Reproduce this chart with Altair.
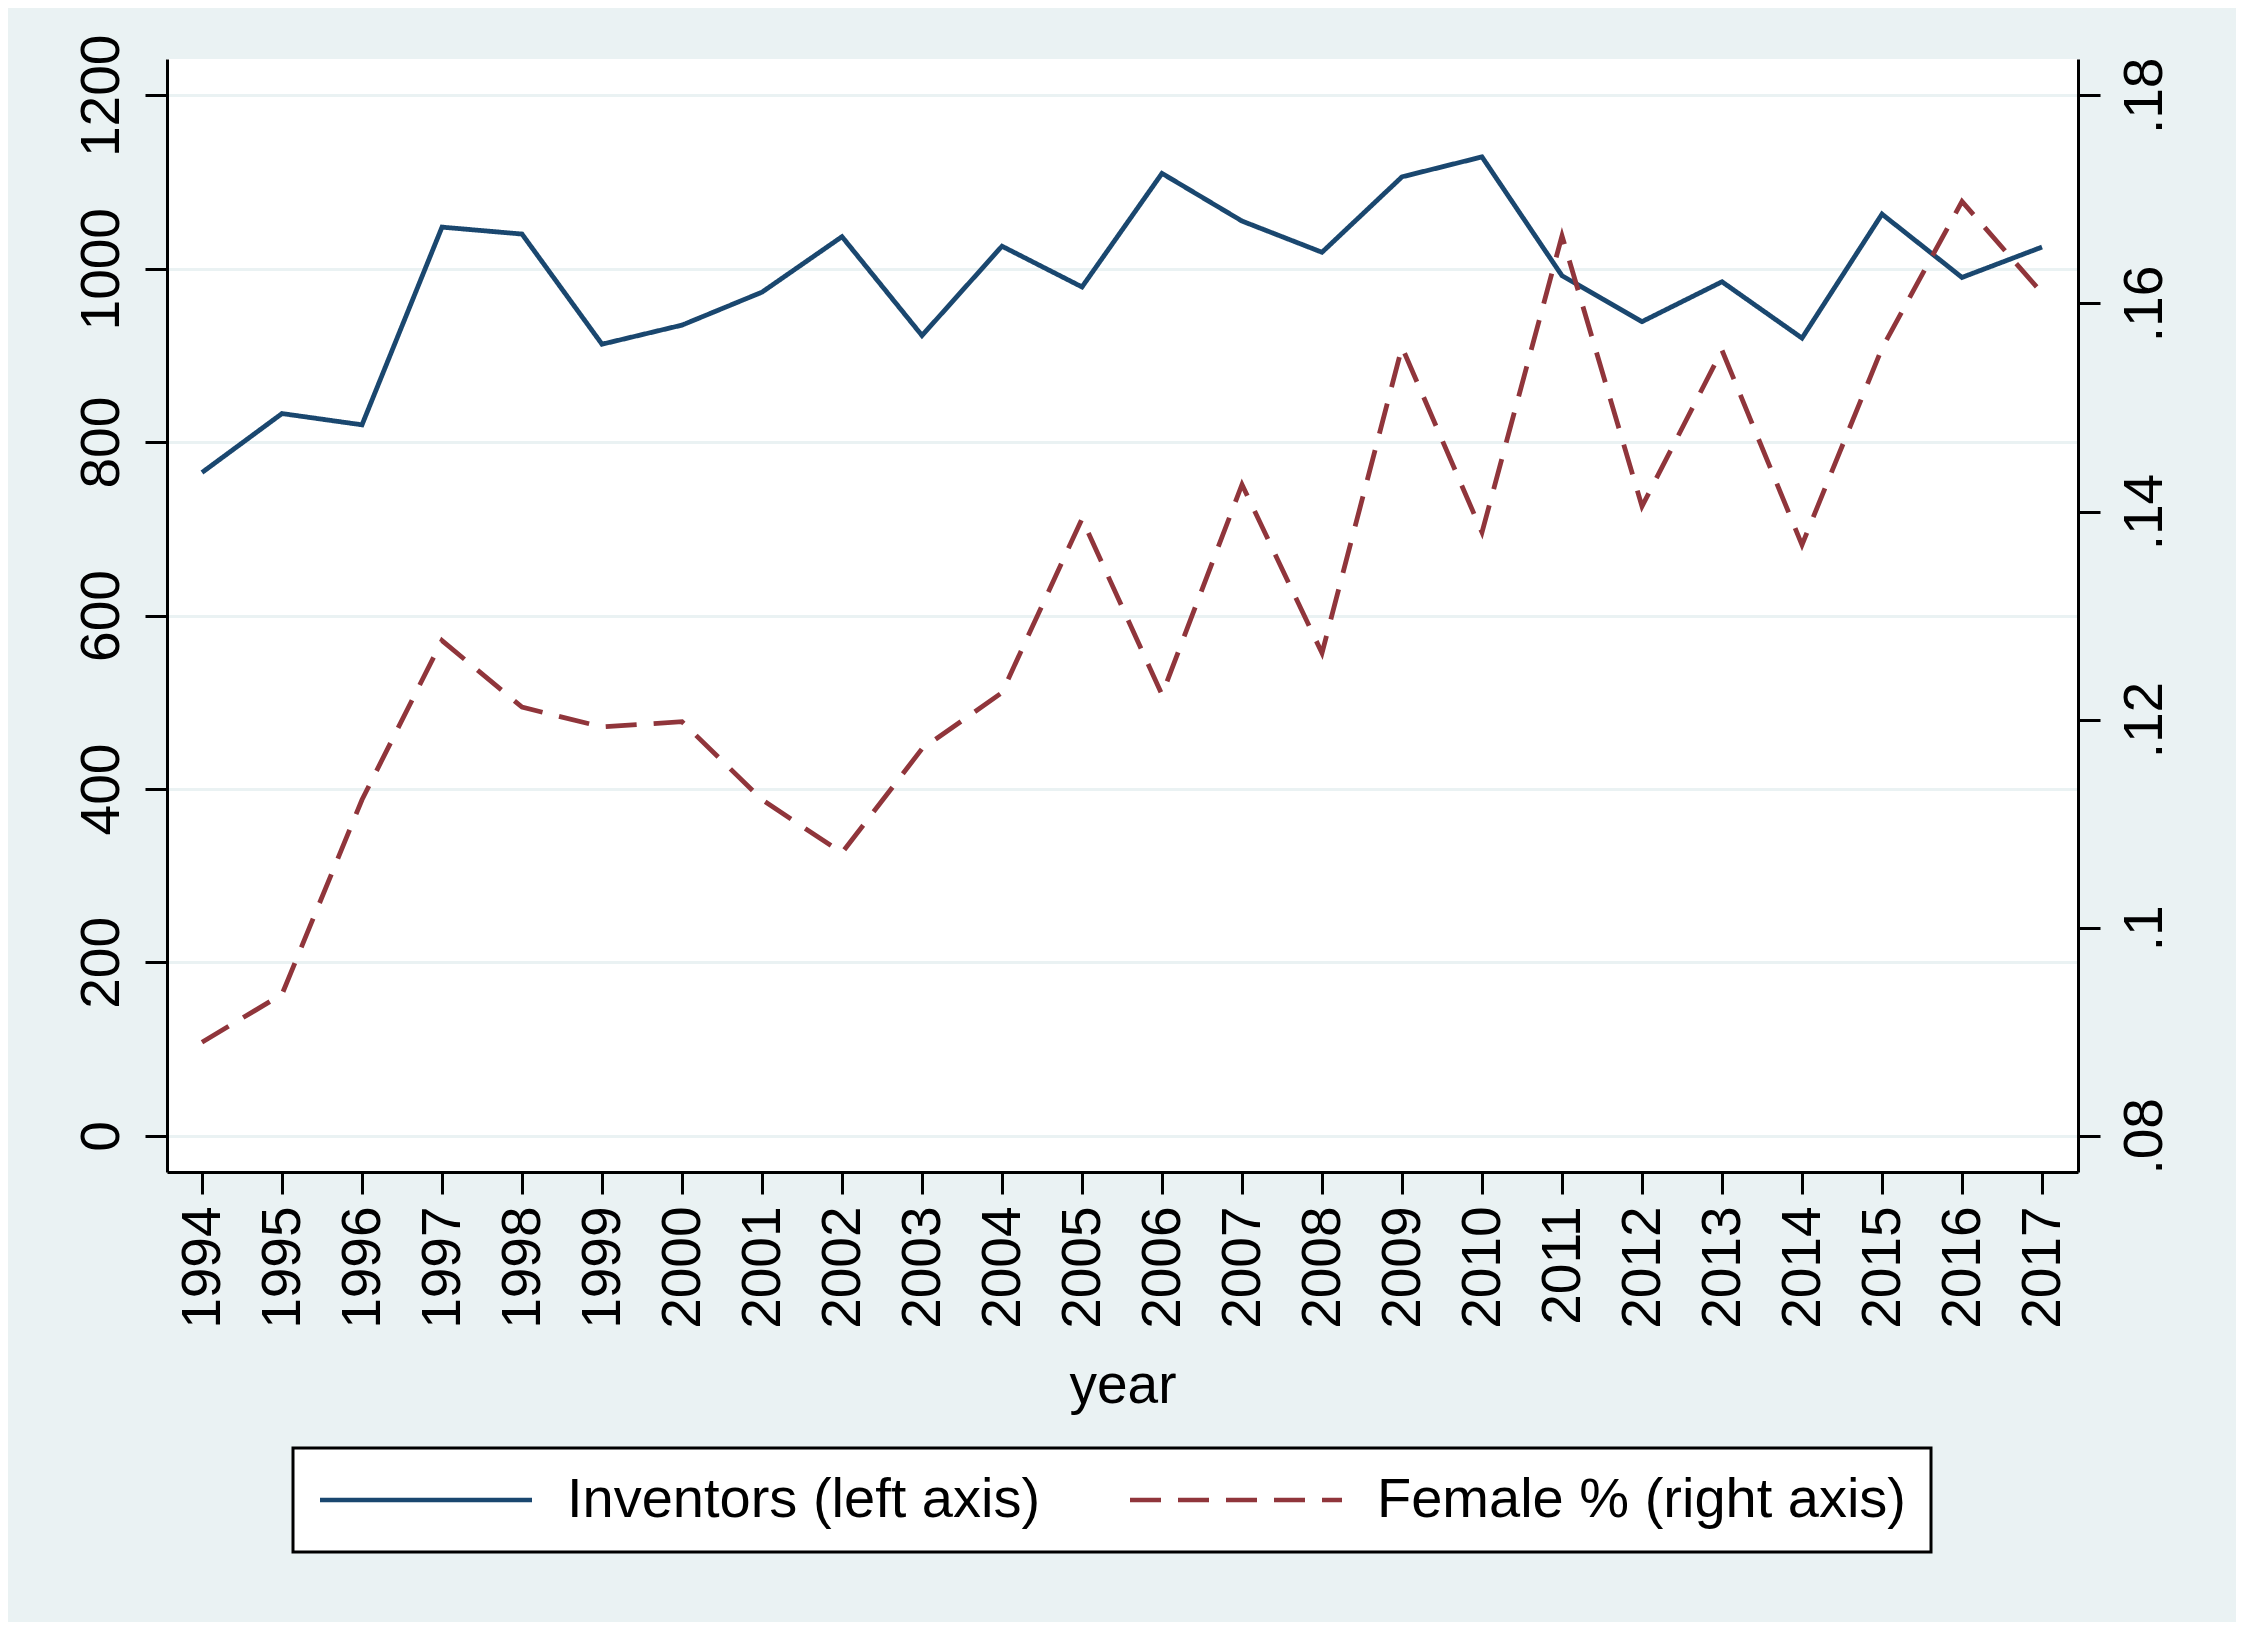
import altair as alt
import pandas as pd

# ---- data ----
years = list(range(1994, 2018))
inventors = [765, 833, 820, 1048, 1040, 913, 935, 973, 1037, 923, 1026, 979,
             1110, 1055, 1019, 1106, 1129, 992, 939, 985, 920, 1063, 990, 1025]
female_share = [0.0890, 0.0936, 0.1123, 0.1276, 0.1212, 0.1193, 0.1198, 0.1123,
                0.1072, 0.1172, 0.1226, 0.1393, 0.1224, 0.1426, 0.1264, 0.1558,
                0.1380, 0.1665, 0.1405, 0.1555, 0.1368, 0.1557, 0.1698, 0.1610]
series_names = ["Inventors (left axis)", "Female % (right axis)"]
left_ticks = [0, 200, 400, 600, 800, 1000, 1200]
right_ticks = [0.08, 0.10, 0.12, 0.14, 0.16, 0.18]

FONT = "Liberation Sans"
BG = "#eaf2f3"
NAVY = "#1a476f"
MAROON = "#90353b"

df_inv = pd.DataFrame({"year": years, "value": inventors, "series": series_names[0]})
df_fem = pd.DataFrame({"year": years, "value": female_share, "series": series_names[1]})

# long legend key drawn as a path that runs to the right of a small symbol box
legend = alt.Legend(
    title=None, orient="none", legendX=126, legendY=1389,
    direction="horizontal", columns=2,
    symbolType="M-1,0H7.48", symbolSize=2500, symbolStrokeWidth=4.5,
    labelOffset=194, columnPadding=80, padding=24,
    fillColor="white", strokeColor="black",
    labelFontSize=56, labelFont=FONT, labelColor="black", labelLimit=1200,
)

color = alt.Color("series:N",
                  scale=alt.Scale(domain=series_names, range=[NAVY, MAROON]),
                  legend=legend)
dash = alt.StrokeDash("series:N",
                      scale=alt.Scale(domain=series_names, range=[[1, 0], [31, 17]]),
                      legend=legend)

x = alt.X("year:Q",
          scale=alt.Scale(domain=[1993.5625, 2017.45], nice=False, zero=False),
          axis=alt.Axis(values=years, format="d", labelAngle=270,
                        labelAlign="right", labelBaseline="middle",
                        labelPadding=12, tickSize=22, title="year",
                        titleY=230, titleBaseline="alphabetic", grid=False))

left = alt.Chart(df_inv).mark_line(strokeWidth=4.8).encode(
    x=x,
    y=alt.Y("value:Q",
            scale=alt.Scale(domain=[-41.7, 1241.9], nice=False, zero=False),
            axis=alt.Axis(values=left_ticks, format="d", orient="left", labelAngle=270,
                          labelAlign="center", labelBaseline="alphabetic",
                          labelPadding=27, tickSize=22, title=None,
                          grid=True, gridColor=BG, gridWidth=3)),
    color=color,
    strokeDash=dash,
)

right = alt.Chart(df_fem).mark_line(strokeWidth=4.8).encode(
    x=x,
    y=alt.Y("value:Q",
            scale=alt.Scale(domain=[0.076525, 0.183492], nice=False, zero=False),
            axis=alt.Axis(values=right_ticks, orient="right", labelAngle=270,
                          labelAlign="center", labelBaseline="top",
                          labelExpr="substring(format(datum.value, '.2~f'), 1)",
                          labelPadding=18, tickSize=22, title=None, grid=False)),
    color=color,
    strokeDash=dash,
)

chart = alt.layer(left, right).resolve_scale(y="independent").properties(
    width=1911, height=1113,
    padding={"left": 159, "top": 51, "right": 158, "bottom": 450},
    autosize=alt.AutoSizeParams(type="none"),
    background=BG,
).configure_view(
    fill="white", strokeWidth=0,
).configure_axis(
    domainColor="black", domainWidth=3, tickColor="black", tickWidth=3,
    labelFont=FONT, labelFontSize=55, labelColor="black",
    titleFont=FONT, titleFontSize=55, titleFontWeight="normal", titleColor="black",
).configure_legend(
    strokeWidth=3,
)

chart.save("out.html", embed_options={"renderer": "svg", "actions": False})
